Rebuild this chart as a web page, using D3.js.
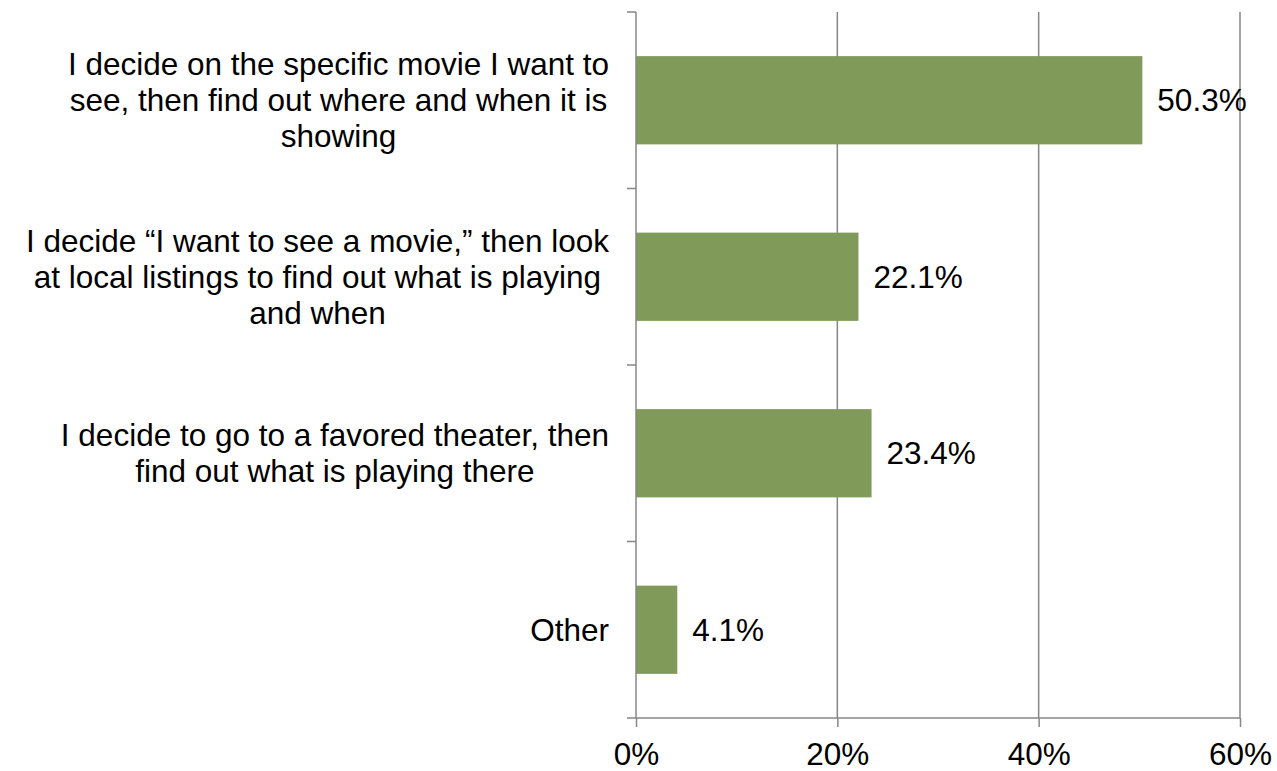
<!DOCTYPE html>
<html>
<head>
<meta charset="utf-8">
<script src="https://cdn.jsdelivr.net/npm/d3@7"></script>
<style>
  html, body { margin: 0; padding: 0; background: #fff; }
  svg { display: block; }
  text { font-family: "Liberation Sans", Arial, sans-serif; fill: #000; }
</style>
</head>
<body>
<svg id="chart" width="1277" height="771"></svg>
<script>
// Survey answers: how people choose a movie to see
const categories = [
  ["I decide on the specific movie I want to", "see, then find out where and when it is", "showing"],
  ["I decide \u201cI want to see a movie,\u201d then look", "at local listings to find out what is playing", "and when"],
  ["I decide to go to a favored theater, then", "find out what is playing there"],
  ["Other"]
];
const values = [50.3, 22.1, 23.4, 4.1];
const xTicks = [0, 20, 40, 60];

const svg = d3.select("#chart");
const fontSize = 31.5;
const lineHeight = 36;
const axisColor = "#878787";

const plot = { left: 636, right: 1240, top: 12, bottom: 718 };

const x = d3.scaleLinear().domain([0, 60]).range([plot.left, plot.right]);
const y = d3.scaleBand()
  .domain(d3.range(categories.length))
  .range([plot.top, plot.bottom])
  .paddingInner(0.5)
  .paddingOuter(0.25);

// vertical gridlines
svg.append("g")
  .selectAll("line")
  .data(xTicks.filter(d => d > 0))
  .join("line")
  .attr("x1", d => x(d)).attr("x2", d => x(d))
  .attr("y1", plot.top).attr("y2", plot.bottom)
  .attr("stroke", axisColor).attr("stroke-width", 1.5);

// bars
svg.append("g")
  .selectAll("rect")
  .data(values)
  .join("rect")
  .attr("x", x(0))
  .attr("y", (d, i) => y(i))
  .attr("width", d => x(d) - x(0))
  .attr("height", y.bandwidth())
  .attr("fill", "#7f9a59");

// x axis
const xAxis = svg.append("g")
  .attr("transform", `translate(0,${plot.bottom})`)
  .call(d3.axisBottom(x).tickValues(xTicks).tickFormat(d => d + "%").tickSize(9).tickSizeOuter(0).tickPadding(16));
xAxis.select(".domain").remove();
xAxis.append("line")
  .attr("x1", plot.left - 9).attr("x2", plot.right)
  .attr("stroke", axisColor).attr("stroke-width", 1.5);
xAxis.selectAll(".tick line").attr("stroke", axisColor).attr("stroke-width", 1.5);
xAxis.selectAll(".tick text")
  .attr("font-size", fontSize)
  .attr("font-family", "Liberation Sans, Arial, sans-serif")
  .attr("fill", "#000")
  .attr("dy", "0.7em");

// y axis line with ticks at category boundaries
const boundaries = d3.range(categories.length + 1).map(i => plot.top + i * y.step());
const yAxis = svg.append("g");
yAxis.append("line")
  .attr("x1", plot.left).attr("x2", plot.left)
  .attr("y1", plot.top).attr("y2", plot.bottom)
  .attr("stroke", axisColor).attr("stroke-width", 1.5);
yAxis.selectAll("line.tick")
  .data(boundaries.slice(0, -1))
  .join("line")
  .attr("class", "tick")
  .attr("x1", plot.left - 9).attr("x2", plot.left)
  .attr("y1", d => d).attr("y2", d => d)
  .attr("stroke", axisColor).attr("stroke-width", 1.5);

// category labels: each block centred on itself, right edge next to the axis
const labelRight = 609;
categories.forEach((lines, i) => {
  const cy = y(i) + y.bandwidth() / 2;
  const g = svg.append("g");
  const t = g.append("text")
    .attr("font-size", fontSize)
    .attr("text-anchor", "middle");
  const y0 = cy - (lines.length - 1) * lineHeight / 2;
  lines.forEach((ln, j) => {
    t.append("tspan")
      .attr("x", 0)
      .attr("y", y0 + j * lineHeight)
      .attr("dy", "0.35em")
      .text(ln);
  });
  const w = d3.max(t.selectAll("tspan").nodes(), n => n.getComputedTextLength());
  g.attr("transform", `translate(${labelRight - w / 2},0)`);
});

// value labels
svg.append("g")
  .selectAll("text")
  .data(values)
  .join("text")
  .attr("x", d => x(d) + 15)
  .attr("y", (d, i) => y(i) + y.bandwidth() / 2)
  .attr("dy", "0.35em")
  .attr("font-size", fontSize)
  .text(d => d.toFixed(1) + "%");
</script>
</body>
</html>
